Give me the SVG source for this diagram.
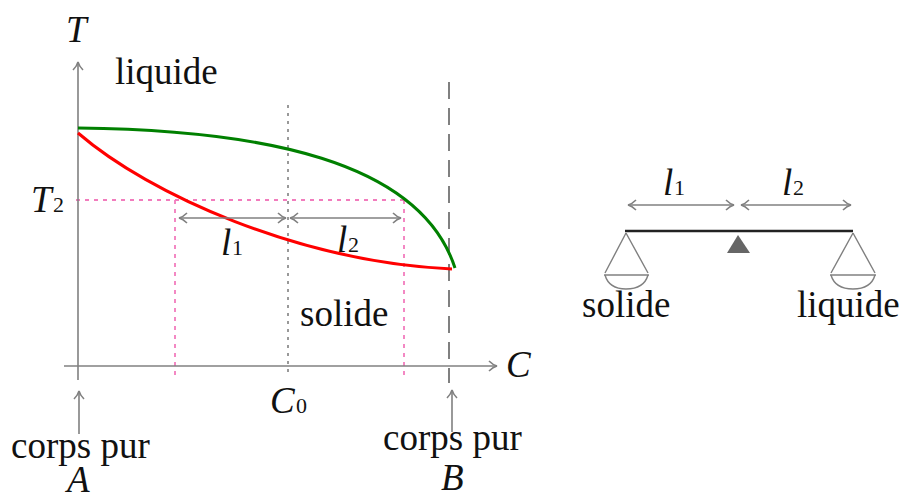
<svg xmlns="http://www.w3.org/2000/svg" width="902" height="498" viewBox="0 0 902 498">
<defs>
<marker id="ah" markerUnits="userSpaceOnUse" markerWidth="14" markerHeight="14" refX="9" refY="6" orient="auto-start-reverse" viewBox="0 0 14 12">
<path d="M1,1 Q5,5 9,6 Q5,7 1,11" fill="none" stroke="#808080" stroke-width="1.6"/>
</marker>
</defs>
<g id="guides" fill="none">
<g stroke="#f27cbd" stroke-width="1.8" stroke-dasharray="4,5">
<line x1="76" y1="200" x2="404" y2="200"/>
<line x1="175" y1="200" x2="175" y2="376"/>
<line x1="404" y1="200" x2="404" y2="376"/>
</g>
<line x1="288" y1="105" x2="288" y2="377" stroke="#808080" stroke-width="1.6" stroke-dasharray="3,5"/>
<line x1="449" y1="82" x2="449" y2="383" stroke="#808080" stroke-width="2" stroke-dasharray="17,9"/>
</g>
<g id="axes" stroke="#808080" stroke-width="1.6" fill="none">
<line x1="78" y1="380" x2="78" y2="62" marker-end="url(#ah)"/>
<line x1="64" y1="366" x2="497" y2="366" marker-end="url(#ah)"/>
</g>
<g id="curves" fill="none" stroke-width="3">
<path d="M78,128 C260,130 420,160 455,268" stroke="#008000"/>
<path d="M78,133 C150,195 300,262 452,269" stroke="#ff0000"/>
</g>
<g id="connectors" stroke="#808080" stroke-width="1.6" fill="none">
<line x1="179" y1="218" x2="286" y2="218" marker-start="url(#ah)" marker-end="url(#ah)"/>
<line x1="290" y1="218" x2="401" y2="218" marker-start="url(#ah)" marker-end="url(#ah)"/>
<line x1="79" y1="434" x2="79" y2="391" marker-end="url(#ah)"/>
<line x1="452" y1="432" x2="452" y2="390" marker-end="url(#ah)"/>
<line x1="628" y1="205" x2="734" y2="205" marker-start="url(#ah)" marker-end="url(#ah)"/>
<line x1="741" y1="205" x2="851" y2="205" marker-start="url(#ah)" marker-end="url(#ah)"/>
</g>
<g id="labels" fill="#111">
<text font-family="Liberation Serif" font-size="37" font-style="italic" x="66" y="42">T</text>
<text font-family="Liberation Serif" font-size="37" x="115" y="84">liquide</text>
<text font-family="Liberation Serif" font-size="37" font-style="italic" x="31" y="212">T</text>
<text font-family="Liberation Serif" font-size="22" x="53" y="212">2</text>
<text font-family="Liberation Serif" font-size="37" font-style="italic" x="221" y="255">l</text>
<text font-family="Liberation Serif" font-size="22" x="232" y="255">1</text>
<text font-family="Liberation Serif" font-size="37" font-style="italic" x="337" y="252">l</text>
<text font-family="Liberation Serif" font-size="22" x="348" y="252">2</text>
<text font-family="Liberation Serif" font-size="37" x="300" y="326">solide</text>
<text font-family="Liberation Serif" font-size="37" font-style="italic" x="506" y="377">C</text>
<text font-family="Liberation Serif" font-size="37" font-style="italic" x="270" y="413">C</text>
<text font-family="Liberation Serif" font-size="22" x="296" y="413">0</text>
<text font-family="Liberation Serif" font-size="37" x="11" y="458">corps pur</text>
<text font-family="Liberation Serif" font-size="37" font-style="italic" x="67" y="492">A</text>
<text font-family="Liberation Serif" font-size="37" x="383" y="450">corps pur</text>
<text font-family="Liberation Serif" font-size="37" font-style="italic" x="441" y="490">B</text>
</g>
<g id="balance">
<line x1="625" y1="231" x2="853" y2="231" stroke="#222" stroke-width="2.6"/>
<path d="M738,235 L727,253 L750,253 Z" fill="#666"/>
<g id="pan-left" fill="none" stroke="#808080" stroke-width="1.4">
<path d="M626,233 L605,273 M626,233 L648,273"/>
<line x1="604" y1="275" x2="649" y2="275"/>
<path d="M605,275 Q609,289 626,289 Q644,289 648,275"/>
</g>
<g id="pan-right" fill="none" stroke="#808080" stroke-width="1.4">
<path d="M853,233 L831,273 M853,233 L875,273"/>
<line x1="830" y1="275" x2="876" y2="275"/>
<path d="M831,275 Q835,289 853,289 Q871,289 875,275"/>
</g>
<g id="balance-labels" fill="#111">
<text font-family="Liberation Serif" font-size="37" font-style="italic" x="663" y="195">l</text>
<text font-family="Liberation Serif" font-size="22" x="674" y="195">1</text>
<text font-family="Liberation Serif" font-size="37" font-style="italic" x="782" y="195">l</text>
<text font-family="Liberation Serif" font-size="22" x="793" y="195">2</text>
<text font-family="Liberation Serif" font-size="37" x="582" y="317">solide</text>
<text font-family="Liberation Serif" font-size="37" x="797" y="317">liquide</text>
</g>
</g>
</svg>
